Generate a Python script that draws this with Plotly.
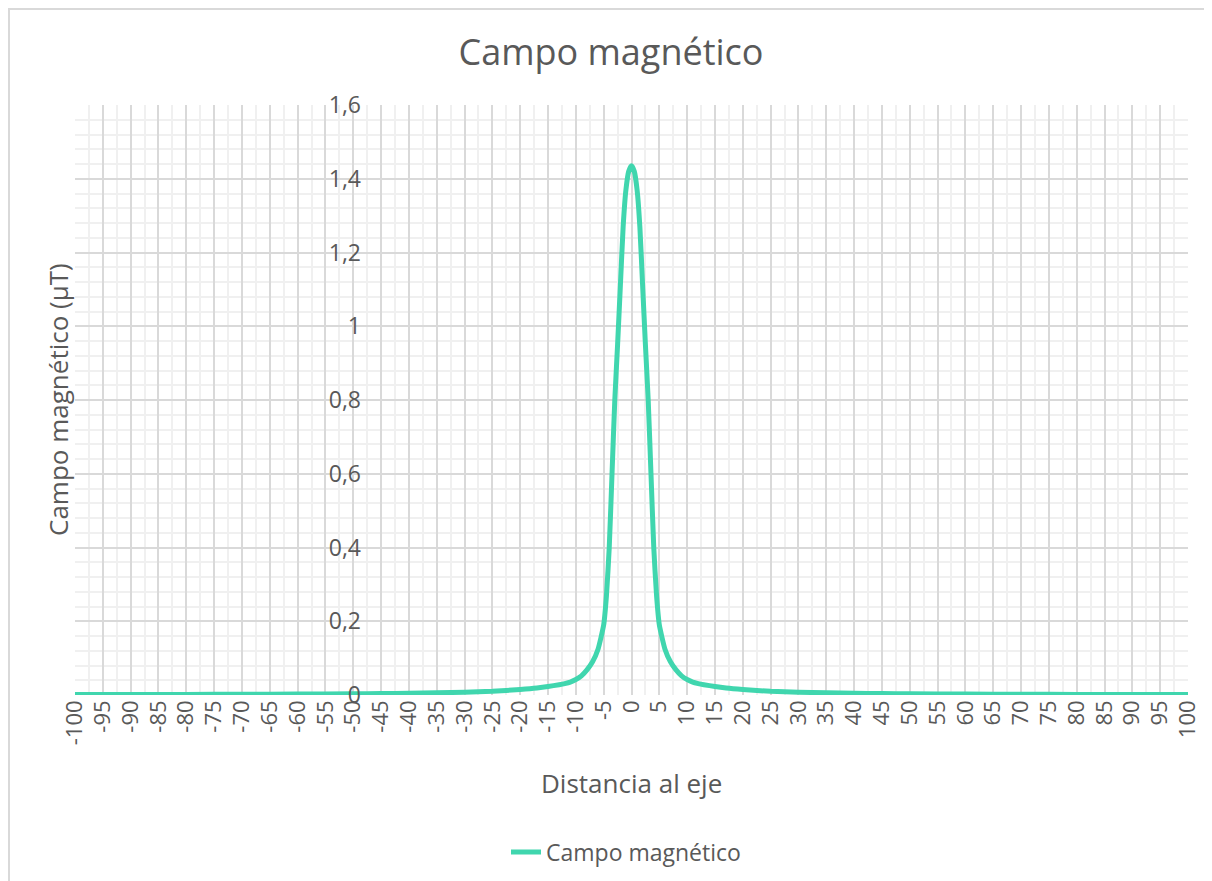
import plotly.graph_objects as go

# Data: distance to axis vs magnetic field (µT)
distancia = [-100, -90, -80, -70, -60, -50, -45, -40, -35, -30, -25, -20, -17, -15, -13, -12, -11, -10,
             -9, -8, -7, -6, -5, -4.5, -4, -3.5, -3, -2.5, -2, -1.5, -1, -0.5,
             0,
             0.5, 1, 1.5, 2, 2.5, 3, 3.5, 4, 4.5, 5, 6, 7, 8, 9,
             10, 11, 12, 13, 15, 17, 20, 25, 30, 35, 40, 45, 50, 60, 70, 80, 90, 100]
campo = [0.0011, 0.0013, 0.0016, 0.002, 0.0025, 0.0033, 0.004, 0.0048, 0.006, 0.0075, 0.010, 0.015, 0.019, 0.023, 0.028, 0.031, 0.035, 0.042,
         0.052, 0.068, 0.09, 0.125, 0.19, 0.27, 0.40, 0.60, 0.80, 0.95, 1.11, 1.27, 1.37, 1.42,
         1.435,
         1.42, 1.37, 1.27, 1.11, 0.95, 0.80, 0.60, 0.40, 0.27, 0.19, 0.125, 0.09, 0.068, 0.052,
         0.042, 0.035, 0.031, 0.028, 0.023, 0.019, 0.015, 0.010, 0.0075, 0.006, 0.0048, 0.004, 0.0033, 0.0025, 0.002, 0.0016, 0.0013, 0.0011]

x_ticks = list(range(-100, 101, 5))
y_ticks = [0, 0.2, 0.4, 0.6, 0.8, 1.0, 1.2, 1.4, 1.6]

FONT = "Open Sans"
TXT = "#595959"
LINE = "rgb(64,214,174)"

fig = go.Figure()
fig.add_trace(go.Scatter(
    x=distancia, y=campo, mode="lines", name="Campo magnético",
    line=dict(color=LINE, width=5, shape="spline", smoothing=0.5),
))

OFF = 8  # page body margin
W, H = 1212 - OFF, 881 - OFF
L, R, T, B = 75 - OFF, 24, 105 - OFF, 186
pw = W - L - R
ph = H - T - B


def px(xp):  # page x pixel -> paper fraction
    return (xp - 75) / pw


def py(yp):  # page y pixel -> paper fraction
    return (695 - yp) / ph


fig.update_layout(
    width=W, height=H,
    margin=dict(l=L, r=R, t=T, b=B, autoexpand=False),
    paper_bgcolor="white", plot_bgcolor="white",
    separators=", ",
    font=dict(family=FONT, color=TXT, size=20),
    title=dict(text="Campo magnético", x=(611 - OFF) / W, xanchor="center",
               y=1 - (52 - OFF) / H, yanchor="middle", font=dict(size=36, color=TXT, family=FONT)),
    showlegend=True,
    legend=dict(orientation="h", x=px(626), xanchor="center", y=py(852), yanchor="middle",
                font=dict(size=23, color=TXT), bgcolor="rgba(0,0,0,0)"),
    xaxis=dict(
        range=[-100, 100], tickvals=x_ticks, ticktext=[str(v) for v in x_ticks],
        tickangle=-90, tickfont=dict(size=22, color=TXT),
        showgrid=True, gridcolor="#d9d9d9", gridwidth=2,
        zeroline=False, showline=False, ticks="",
        minor=dict(dtick=2.5, tick0=0, showgrid=True, gridcolor="#f0f0f0", gridwidth=2),
    ),
    yaxis=dict(
        range=[0, 1.6], tickvals=y_ticks, tickfont=dict(size=23, color=TXT),
        showgrid=True, gridcolor="#d9d9d9", gridwidth=2,
        zeroline=False, showline=False, ticks="",
        anchor="free", position=px(361),
        minor=dict(dtick=0.04, tick0=0, showgrid=True, gridcolor="#f0f0f0", gridwidth=2),
    ),
)

fig.add_annotation(text="Campo magnético (µT)", xref="paper", yref="paper",
                   x=px(58), y=py(400), xanchor="center", yanchor="middle",
                   textangle=-90, showarrow=False, font=dict(size=26, color=TXT, family=FONT))
fig.add_annotation(text="Distancia al eje", xref="paper", yref="paper",
                   x=px(631), y=py(783), xanchor="center", yanchor="middle",
                   showarrow=False, font=dict(size=26, color=TXT, family=FONT))

# outer chart frame
fig.add_shape(type="rect", xref="paper", yref="paper",
              x0=px(9), x1=px(1230), y0=py(920), y1=py(9),
              line=dict(color="#d9d9d9", width=2), fillcolor="rgba(0,0,0,0)", layer="below")

fig.write_html("out.html")
